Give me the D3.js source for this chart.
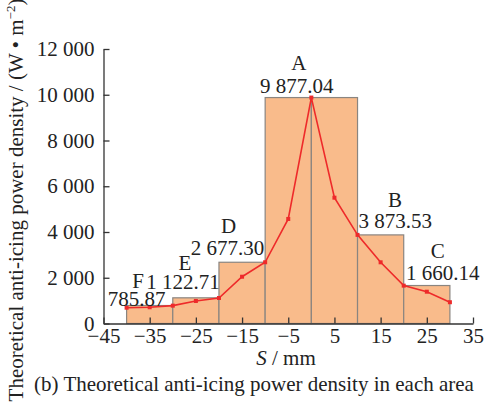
<!DOCTYPE html>
<html>
<head>
<meta charset="utf-8">
<script src="https://cdn.jsdelivr.net/npm/d3@7"></script>
<style>
  body { margin: 0; background: #fff; }
  text { font-family: "Liberation Serif", "Times New Roman", serif; fill: #222; }
</style>
</head>
<body>
<div id="chart"></div>
<script>
// bars: each area spans [edge i, edge i+1]; area A is drawn as two halves
var barEdges = [-40, -30, -20, -10, 0, 10, 20, 30];
var barValues = [785.87, 1122.71, 2677.30, 9877.04, 9877.04, 3873.53, 1660.14];

// area labels (one per area) and the bar index they belong to
var areaNames = ['F', 'E', 'D', 'A', 'B', 'C'];
var areaValues = [785.87, 1122.71, 2677.30, 9877.04, 3873.53, 1660.14];
var areaBar = [0, 1, 2, 3, 5, 6];

// red curve
var curveS = [-40, -35, -30, -25, -20, -15, -10, -5, 0, 5, 10, 15, 20, 25, 30];
var curveP = [690, 710, 780, 985, 1115, 2045, 2677, 4570, 9877, 5500, 3874, 2675, 1655, 1390, 930];

var xTicks = [-45, -35, -25, -15, -5, 5, 15, 25, 35];
var yTicks = [0, 2000, 4000, 6000, 8000, 10000, 12000];

var config = {
    width: 485,
    height: 402,
    fontSize: 21,
    colors: { bar: '#f9bb8b', barEdge: '#8a8580', line: '#ee2a2a', axis: '#333' },
    plot: { left: 103.5, right: 473, top: 49, bottom: 323.5 }
};

// label placement (px): value text relative to bar centre / bar top,
// name letter relative to the value text
var valueOffset = [[-13, 0], [-13, -9], [-14.5, -7], [-14.5, -4.5], [14.5, -7], [16, -5.5]];
var nameOffset = [[-11.5, -18], [-11, -19], [-13.5, -22], [-12.5, -23], [14.5, -21], [11, -22]];

// spaces in numbers as in the figure: "9 877.04"
function fmt(v) {
    var s = v.toFixed(2).split('.');
    return s[0].replace(/\B(?=(\d{3})+(?!\d))/g, ' ') + '.' + s[1];
}
function fmtTick(v) {
    return String(v).replace(/\B(?=(\d{3})+(?!\d))/g, ' ').replace('-', '\u2212');
}

var svg = d3.select('#chart').append('svg')
    .attr('width', config.width)
    .attr('height', config.height);

var x = d3.scaleLinear().domain([-45, 35]).range([config.plot.left, config.plot.right]);
var y = d3.scaleLinear().domain([0, 12000]).range([config.plot.bottom, config.plot.top]);

// bars
svg.selectAll('.bar')
    .data(barValues)
    .enter().append('rect')
    .attr('x', function (d, i) { return x(barEdges[i]); })
    .attr('width', function (d, i) { return x(barEdges[i + 1]) - x(barEdges[i]); })
    .attr('y', function (d) { return y(d); })
    .attr('height', function (d) { return y(0) - y(d); })
    .attr('fill', config.colors.bar)
    .attr('stroke', config.colors.barEdge)
    .attr('stroke-width', 1.2);

// curve
var pts = curveS.map(function (s, i) { return [x(s), y(curveP[i])]; });
svg.append('path')
    .attr('d', d3.line()(pts))
    .attr('fill', 'none')
    .attr('stroke', config.colors.line)
    .attr('stroke-width', 1.6);
svg.selectAll('.pt')
    .data(pts)
    .enter().append('rect')
    .attr('x', function (d) { return d[0] - 2; })
    .attr('y', function (d) { return d[1] - 2; })
    .attr('width', 4)
    .attr('height', 4)
    .attr('fill', config.colors.line);

// axes
var xAxis = svg.append('g')
    .attr('transform', 'translate(0,' + config.plot.bottom + ')')
    .call(d3.axisBottom(x).tickValues(xTicks).tickSizeInner(-6).tickSizeOuter(0).tickPadding(5).tickFormat(fmtTick));
var yAxis = svg.append('g')
    .attr('transform', 'translate(' + config.plot.left + ',0)')
    .call(d3.axisLeft(y).tickValues(yTicks).tickSizeInner(-6).tickSizeOuter(0).tickPadding(9).tickFormat(fmtTick));
[xAxis, yAxis].forEach(function (g) {
    g.selectAll('path, line').attr('stroke', config.colors.axis).attr('stroke-width', 1.3);
    g.selectAll('text')
        .attr('font-family', 'Liberation Serif')
        .attr('font-size', config.fontSize)
        .attr('fill', '#222');
});
xAxis.selectAll('text').attr('dy', '0.71em');

// area labels
var labels = svg.append('g').attr('font-size', config.fontSize).attr('text-anchor', 'middle');
areaValues.forEach(function (v, i) {
    var b = areaBar[i];
    var cx = (x(barEdges[b]) + x(barEdges[b + 1])) / 2;
    if (areaNames[i] === 'A') cx = x(barEdges[b + 1]);
    var vx = cx + valueOffset[i][0], vy = y(v) + valueOffset[i][1];
    labels.append('text').attr('x', vx).attr('y', vy).text(fmt(v));
    labels.append('text')
        .attr('x', cx + nameOffset[i][0])
        .attr('y', vy + nameOffset[i][1])
        .text(areaNames[i]);
});

// axis titles
var xt = svg.append('text')
    .attr('x', 286)
    .attr('y', 365)
    .attr('text-anchor', 'middle')
    .attr('font-size', config.fontSize);
xt.append('tspan').attr('font-style', 'italic').text('S');
xt.append('tspan').text(' / mm');

var yt = svg.append('text')
    .attr('transform', 'translate(23,200) rotate(-90)')
    .attr('text-anchor', 'middle')
    .attr('font-size', config.fontSize);
yt.append('tspan').text('Theoretical anti-icing power density / (W \u2022 m');
yt.append('tspan').attr('font-size', 13).attr('dy', -8).text('\u22122');
yt.append('tspan').attr('dy', 8).text(')');

svg.append('text')
    .attr('x', 254)
    .attr('y', 391)
    .attr('text-anchor', 'middle')
    .attr('font-size', config.fontSize)
    .text('(b) Theoretical anti-icing power density in each area');
</script>
</body>
</html>
